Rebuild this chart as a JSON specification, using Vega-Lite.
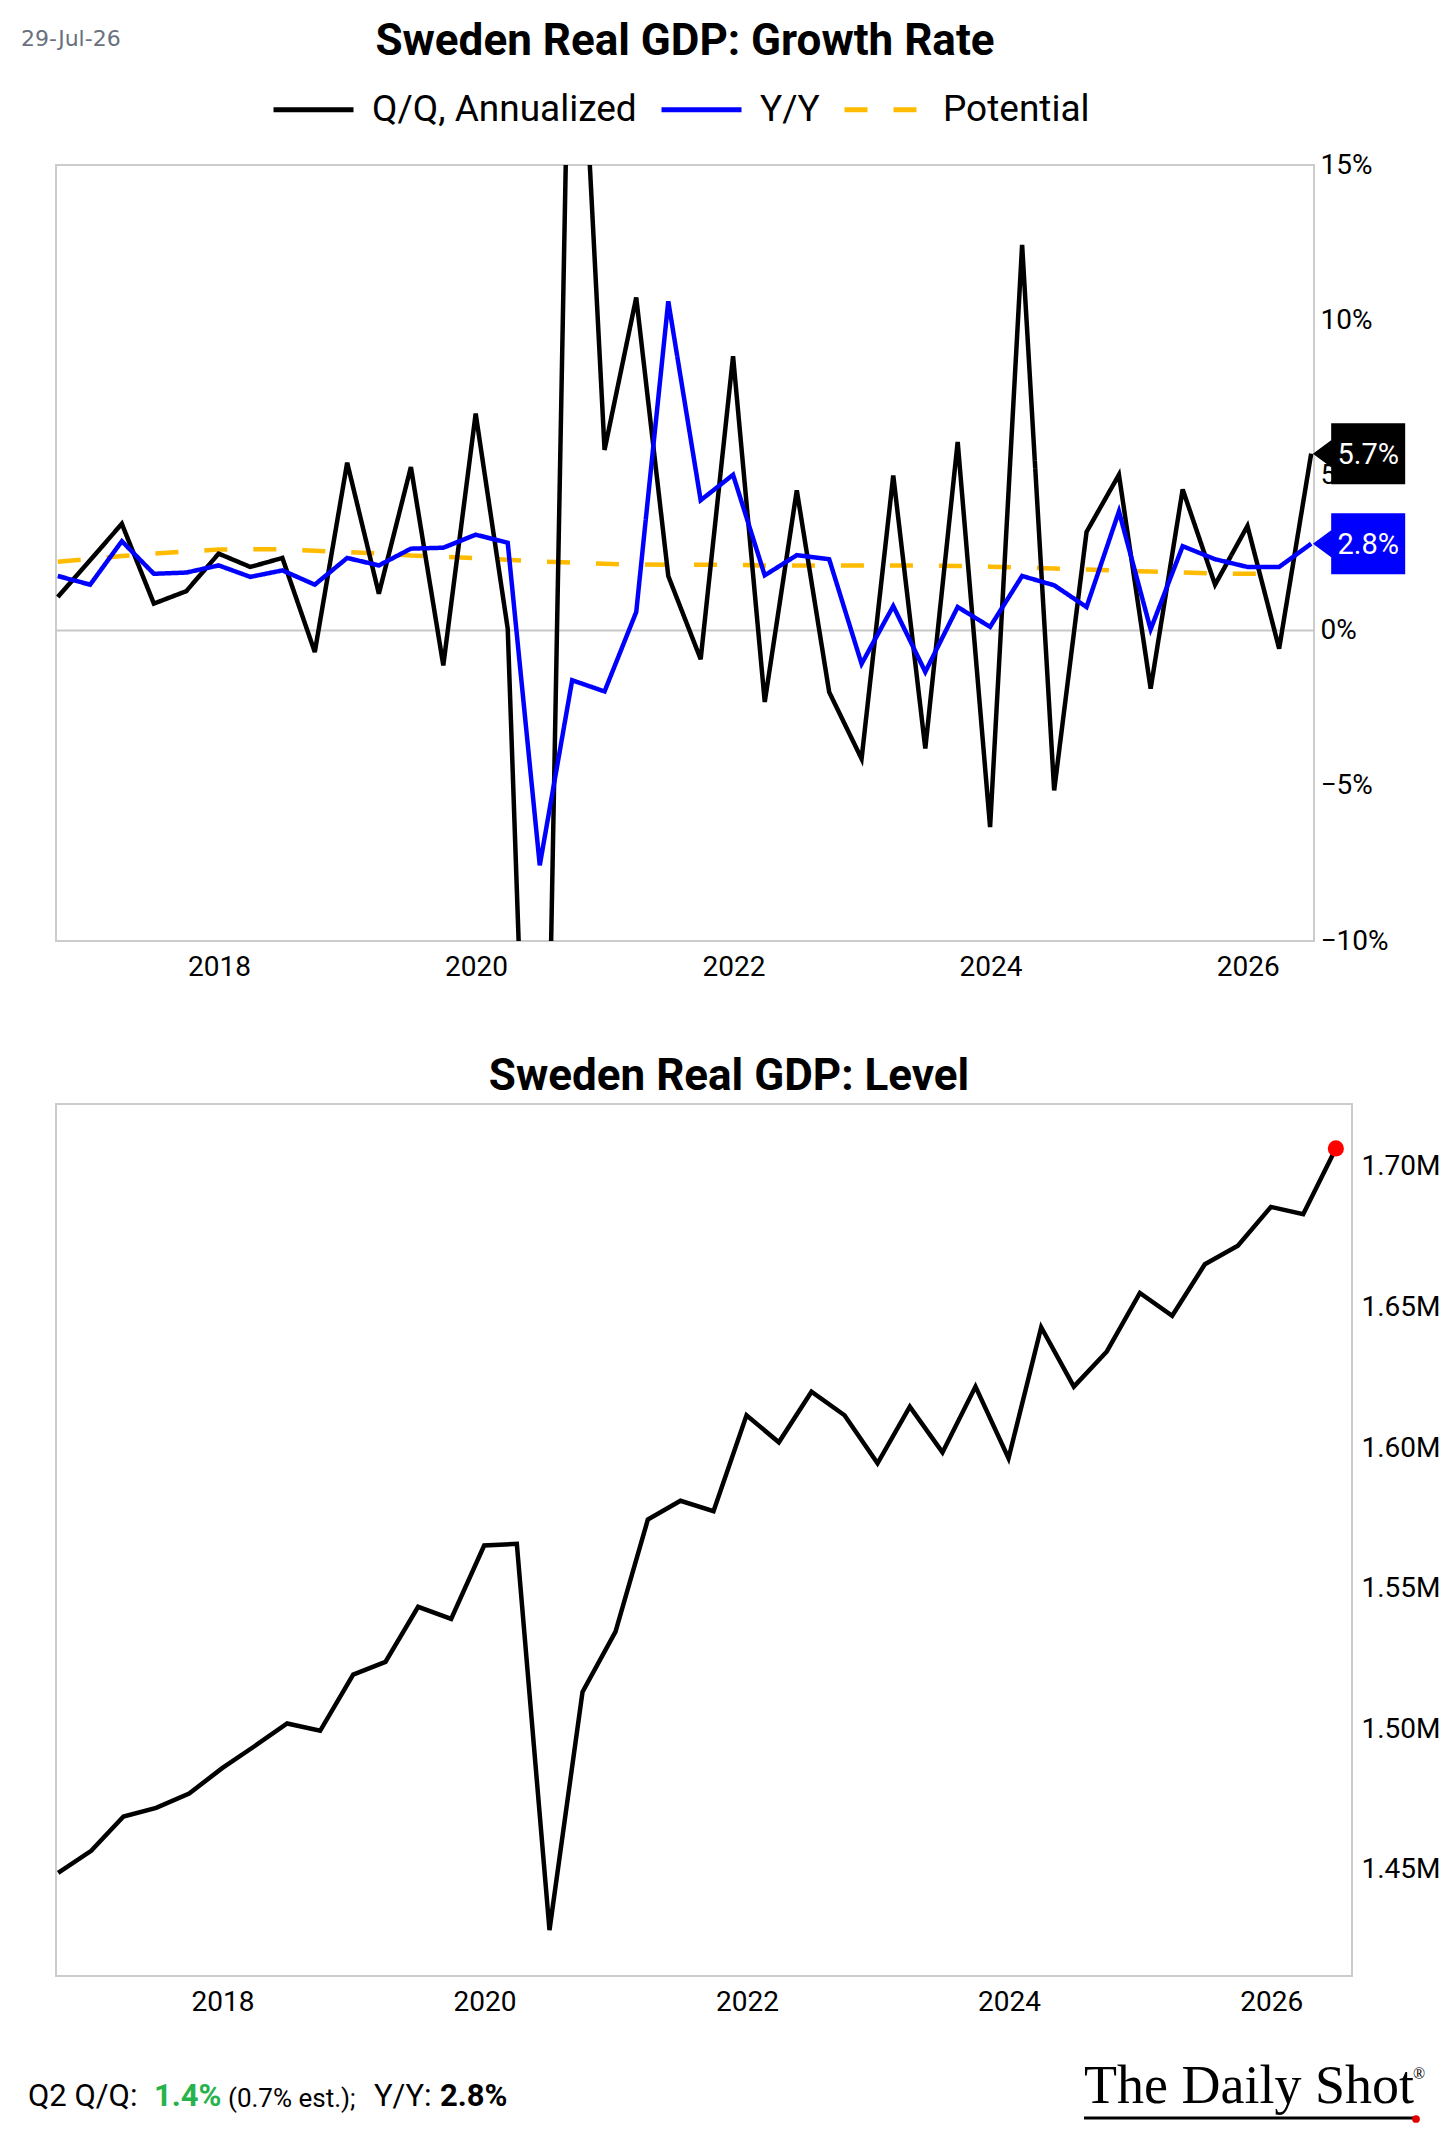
{
  "$schema": "https://vega.github.io/schema/vega-lite/v6.json",
  "background": "#ffffff",
  "padding": {"left": 20, "top": 19, "right": 6, "bottom": 20},
  "autosize": {"type": "pad"},
  "bounds": "flush",
  "spacing": 163,
  "config": {
    "font": "Roboto",
    "view": {"stroke": "#cccccc", "strokeWidth": 2},
    "axis": {"grid": false, "ticks": false, "domain": false, "labelFont": "Roboto", "labelFontSize": 28, "labelColor": "#000000"},
    "title": {"font": "Roboto", "fontWeight": "bold", "fontSize": 44, "color": "#000000", "anchor": "middle", "frame": "group"},
    "legend": {"orient": "none", "legendX": 215, "legendY": -98, "direction": "horizontal", "symbolType": "stroke", "symbolSize": 6400, "symbolStrokeWidth": 5, "labelFont": "Roboto", "labelFontSize": 37, "labelColor": "#000000", "labelOffset": 16, "labelLimit": 600, "columnPadding": 14, "padding": 0}
  },
  "datasets": {
    "gdp": [
      {"d": "2016-09-30", "Q/Q, Annualized": 0.0108, "Y/Y": 0.0176, "Potential": 0.0222, "lvl": 1449000},
      {"d": "2016-12-31", "Q/Q, Annualized": 0.0227, "Y/Y": 0.0148, "Potential": 0.0231, "lvl": 1456800},
      {"d": "2017-03-31", "Q/Q, Annualized": 0.0344, "Y/Y": 0.0288, "Potential": 0.0240, "lvl": 1469000},
      {"d": "2017-06-30", "Q/Q, Annualized": 0.0087, "Y/Y": 0.0183, "Potential": 0.0248, "lvl": 1472100},
      {"d": "2017-09-30", "Q/Q, Annualized": 0.0127, "Y/Y": 0.0187, "Potential": 0.0255, "lvl": 1477200},
      {"d": "2017-12-31", "Q/Q, Annualized": 0.0248, "Y/Y": 0.0210, "Potential": 0.0261, "lvl": 1486200},
      {"d": "2018-03-31", "Q/Q, Annualized": 0.0205, "Y/Y": 0.0173, "Potential": 0.0262, "lvl": 1494000},
      {"d": "2018-06-30", "Q/Q, Annualized": 0.0234, "Y/Y": 0.0194, "Potential": 0.0262, "lvl": 1502100},
      {"d": "2018-09-30", "Q/Q, Annualized": -0.0069, "Y/Y": 0.0148, "Potential": 0.0257, "lvl": 1499500},
      {"d": "2018-12-31", "Q/Q, Annualized": 0.0541, "Y/Y": 0.0234, "Potential": 0.0253, "lvl": 1519500},
      {"d": "2019-03-31", "Q/Q, Annualized": 0.0119, "Y/Y": 0.0210, "Potential": 0.0249, "lvl": 1524000},
      {"d": "2019-06-30", "Q/Q, Annualized": 0.0527, "Y/Y": 0.0264, "Potential": 0.0242, "lvl": 1543600},
      {"d": "2019-09-30", "Q/Q, Annualized": -0.0112, "Y/Y": 0.0267, "Potential": 0.0238, "lvl": 1539300},
      {"d": "2019-12-31", "Q/Q, Annualized": 0.0699, "Y/Y": 0.0309, "Potential": 0.0233, "lvl": 1565400},
      {"d": "2020-03-31", "Q/Q, Annualized": 0.0006, "Y/Y": 0.0283, "Potential": 0.0228, "lvl": 1566000},
      {"d": "2020-06-30", "Q/Q, Annualized": -0.2950, "Y/Y": -0.0756, "Potential": 0.0223, "lvl": 1428600},
      {"d": "2020-09-30", "Q/Q, Annualized": 0.2600, "Y/Y": -0.0160, "Potential": 0.0219, "lvl": 1513300},
      {"d": "2020-12-31", "Q/Q, Annualized": 0.0582, "Y/Y": -0.0196, "Potential": 0.0215, "lvl": 1534800},
      {"d": "2021-03-31", "Q/Q, Annualized": 0.1073, "Y/Y": 0.0060, "Potential": 0.0213, "lvl": 1574600},
      {"d": "2021-06-30", "Q/Q, Annualized": 0.0176, "Y/Y": 0.1061, "Potential": 0.0212, "lvl": 1581300},
      {"d": "2021-09-30", "Q/Q, Annualized": -0.0092, "Y/Y": 0.0420, "Potential": 0.0212, "lvl": 1577600},
      {"d": "2021-12-31", "Q/Q, Annualized": 0.0884, "Y/Y": 0.0502, "Potential": 0.0212, "lvl": 1611700},
      {"d": "2022-03-31", "Q/Q, Annualized": -0.0230, "Y/Y": 0.0178, "Potential": 0.0210, "lvl": 1602100},
      {"d": "2022-06-30", "Q/Q, Annualized": 0.0452, "Y/Y": 0.0243, "Potential": 0.0210, "lvl": 1620100},
      {"d": "2022-09-30", "Q/Q, Annualized": -0.0198, "Y/Y": 0.0230, "Potential": 0.0210, "lvl": 1611700},
      {"d": "2022-12-31", "Q/Q, Annualized": -0.0413, "Y/Y": -0.0107, "Potential": 0.0210, "lvl": 1594600},
      {"d": "2023-03-31", "Q/Q, Annualized": 0.0500, "Y/Y": 0.0079, "Potential": 0.0210, "lvl": 1614800},
      {"d": "2023-06-30", "Q/Q, Annualized": -0.0380, "Y/Y": -0.0133, "Potential": 0.0210, "lvl": 1598500},
      {"d": "2023-09-30", "Q/Q, Annualized": 0.0608, "Y/Y": 0.0076, "Potential": 0.0208, "lvl": 1621900},
      {"d": "2023-12-31", "Q/Q, Annualized": -0.0633, "Y/Y": 0.0012, "Potential": 0.0206, "lvl": 1596400},
      {"d": "2024-03-31", "Q/Q, Annualized": 0.1243, "Y/Y": 0.0176, "Potential": 0.0203, "lvl": 1643000},
      {"d": "2024-06-30", "Q/Q, Annualized": -0.0515, "Y/Y": 0.0146, "Potential": 0.0200, "lvl": 1621900},
      {"d": "2024-09-30", "Q/Q, Annualized": 0.0318, "Y/Y": 0.0076, "Potential": 0.0197, "lvl": 1634400},
      {"d": "2024-12-31", "Q/Q, Annualized": 0.0502, "Y/Y": 0.0384, "Potential": 0.0193, "lvl": 1655200},
      {"d": "2025-03-31", "Q/Q, Annualized": -0.0187, "Y/Y": 0.0004, "Potential": 0.0190, "lvl": 1647100},
      {"d": "2025-06-30", "Q/Q, Annualized": 0.0455, "Y/Y": 0.0272, "Potential": 0.0187, "lvl": 1665400},
      {"d": "2025-09-30", "Q/Q, Annualized": 0.0148, "Y/Y": 0.0230, "Potential": 0.0184, "lvl": 1672000},
      {"d": "2025-12-31", "Q/Q, Annualized": 0.0337, "Y/Y": 0.0205, "Potential": 0.0183, "lvl": 1685800},
      {"d": "2026-03-31", "Q/Q, Annualized": -0.0058, "Y/Y": 0.0205, "Potential": 0.0183, "lvl": 1683200},
      {"d": "2026-06-30", "Q/Q, Annualized": 0.0570, "Y/Y": 0.0280, "Potential": null, "lvl": 1706600}
    ]
  },
  "vconcat": [
    {
      "width": 1258,
      "height": 776,
      "title": {"text": "Sweden Real GDP: Growth Rate", "offset": -36},
      "data": {"name": "gdp"},
      "layer": [
        {
          "data": {"values": [{}]},
          "mark": {"type": "rule", "color": "#c8c8c8", "strokeWidth": 2},
          "encoding": {
            "y": {"datum": 0, "type": "quantitative", "title": null, "scale": {"domain": [-0.1, 0.15], "nice": false, "zero": false}}
          }
        },
        {
          "transform": [
            {"fold": ["Potential", "Q/Q, Annualized", "Y/Y"], "as": ["series", "v"]},
            {"filter": "isValid(datum.v)"}
          ],
          "mark": {"type": "line", "strokeWidth": 4.5, "clip": true, "strokeJoin": "miter"},
          "encoding": {
            "x": {
              "field": "d", "type": "temporal", "title": null,
              "scale": {"domain": [{"year": 2016, "month": 9, "date": 25}, {"year": 2026, "month": 7, "date": 8}], "nice": false},
              "axis": {
                "values": [{"year": 2018, "month": 1, "date": 1}, {"year": 2020, "month": 1, "date": 1}, {"year": 2022, "month": 1, "date": 1}, {"year": 2024, "month": 1, "date": 1}, {"year": 2026, "month": 1, "date": 1}],
                "format": "%Y", "labelPadding": 12, "labelFlush": false
              }
            },
            "y": {
              "field": "v", "type": "quantitative", "title": null,
              "scale": {"domain": [-0.1, 0.15], "nice": false, "zero": false},
              "axis": {"orient": "right", "values": [-0.1, -0.05, 0, 0.05, 0.1, 0.15], "format": ".0%", "labelPadding": 6}
            },
            "color": {
              "field": "series", "type": "nominal", "legend": {"title": null},
              "scale": {"domain": ["Q/Q, Annualized", "Y/Y", "Potential"], "range": ["#000000", "#0000ff", "#ffbb00"]}
            },
            "strokeDash": {
              "field": "series", "type": "nominal", "legend": {"title": null},
              "scale": {"domain": ["Q/Q, Annualized", "Y/Y", "Potential"], "range": [[1, 0], [1, 0], [23, 26]]}
            }
          }
        },
        {
          "transform": [
            {"fold": ["Q/Q, Annualized", "Y/Y"], "as": ["series", "v"]},
            {"joinaggregate": [{"op": "max", "field": "d", "as": "last"}]},
            {"filter": "time(datum.d) === time(datum.last)"}
          ],
          "mark": {"type": "point", "filled": true, "opacity": 1, "strokeWidth": 0, "size": 400, "shape": "M0.17,0L2,-1.35L2,-3.05L9.4,-3.05L9.4,3.05L2,3.05L2,1.35Z"},
          "encoding": {
            "x": {"field": "d", "type": "temporal", "title": null, "scale": {"domain": [{"year": 2016, "month": 9, "date": 25}, {"year": 2026, "month": 7, "date": 8}], "nice": false}},
            "y": {"field": "v", "type": "quantitative", "title": null, "scale": {"domain": [-0.1, 0.15], "nice": false, "zero": false}},
            "fill": {"condition": {"test": "datum.series === 'Y/Y'", "value": "#0000ff"}, "value": "#000000"}
          }
        },
        {
          "transform": [
            {"fold": ["Q/Q, Annualized", "Y/Y"], "as": ["series", "v"]},
            {"joinaggregate": [{"op": "max", "field": "d", "as": "last"}]},
            {"filter": "time(datum.d) === time(datum.last)"}
          ],
          "mark": {"type": "text", "color": "#ffffff", "fontSize": 29, "align": "center", "baseline": "middle", "dx": 57, "dy": 1},
          "encoding": {
            "x": {"field": "d", "type": "temporal", "title": null, "scale": {"domain": [{"year": 2016, "month": 9, "date": 25}, {"year": 2026, "month": 7, "date": 8}], "nice": false}},
            "y": {"field": "v", "type": "quantitative", "title": null, "scale": {"domain": [-0.1, 0.15], "nice": false, "zero": false}},
            "text": {"field": "v", "type": "quantitative", "format": ".1%"}
          }
        },
        {
          "data": {"values": [{}]},
          "mark": {"type": "text", "align": "left", "baseline": "middle", "font": "DejaVu Sans", "fontSize": 22, "color": "#69707e"},
          "encoding": {"x": {"value": -35}, "y": {"value": -126}, "text": {"value": "29-Jul-26"}}
        }
      ]
    },
    {
      "width": 1296,
      "height": 872,
      "title": {"text": "Sweden Real GDP: Level", "offset": 5, "dx": 25},
      "data": {"name": "gdp"},
      "layer": [
        {
          "mark": {"type": "line", "color": "#000000", "strokeWidth": 4.5, "strokeJoin": "miter"},
          "encoding": {
            "x": {
              "field": "d", "type": "temporal", "title": null,
              "scale": {"domain": [{"year": 2016, "month": 9, "date": 24}, {"year": 2026, "month": 8, "date": 14}], "nice": false},
              "axis": {
                "values": [{"year": 2018, "month": 1, "date": 1}, {"year": 2020, "month": 1, "date": 1}, {"year": 2022, "month": 1, "date": 1}, {"year": 2024, "month": 1, "date": 1}, {"year": 2026, "month": 1, "date": 1}],
                "format": "%Y", "labelPadding": 12, "labelFlush": false
              }
            },
            "y": {
              "field": "lvl", "type": "quantitative", "title": null,
              "scale": {"domain": [1412300, 1722400], "nice": false, "zero": false},
              "axis": {"orient": "right", "values": [1450000, 1500000, 1550000, 1600000, 1650000, 1700000], "format": ".3s", "labelPadding": 9}
            }
          }
        },
        {
          "transform": [
            {"joinaggregate": [{"op": "max", "field": "d", "as": "last"}]},
            {"filter": "time(datum.d) === time(datum.last)"}
          ],
          "mark": {"type": "circle", "color": "#ff0000", "size": 260, "opacity": 1},
          "encoding": {
            "x": {"field": "d", "type": "temporal", "title": null, "scale": {"domain": [{"year": 2016, "month": 9, "date": 24}, {"year": 2026, "month": 8, "date": 14}], "nice": false}},
            "y": {"field": "lvl", "type": "quantitative", "title": null, "scale": {"domain": [1412300, 1722400], "nice": false, "zero": false}}
          }
        },
        {
          "data": {"values": [{}]},
          "mark": {"type": "text", "align": "left", "baseline": "middle", "fontSize": 31, "color": "#000000"},
          "encoding": {"x": {"value": -28}, "y": {"value": 993}, "text": {"value": "Q2 Q/Q:"}}
        },
        {
          "data": {"values": [{}]},
          "mark": {"type": "text", "align": "left", "baseline": "middle", "fontSize": 31, "fontWeight": "bold", "color": "#27b34b"},
          "encoding": {"x": {"value": 98}, "y": {"value": 993}, "text": {"value": "1.4%"}}
        },
        {
          "data": {"values": [{}]},
          "mark": {"type": "text", "align": "left", "baseline": "middle", "fontSize": 26, "color": "#000000"},
          "encoding": {"x": {"value": 172}, "y": {"value": 995}, "text": {"value": "(0.7% est.);"}}
        },
        {
          "data": {"values": [{}]},
          "mark": {"type": "text", "align": "left", "baseline": "middle", "fontSize": 31, "color": "#000000"},
          "encoding": {"x": {"value": 318}, "y": {"value": 993}, "text": {"value": "Y/Y:"}}
        },
        {
          "data": {"values": [{}]},
          "mark": {"type": "text", "align": "left", "baseline": "middle", "fontSize": 31, "fontWeight": "bold", "color": "#000000"},
          "encoding": {"x": {"value": 384}, "y": {"value": 993}, "text": {"value": "2.8%"}}
        },
        {
          "data": {"values": [{}]},
          "mark": {"type": "text", "align": "left", "baseline": "alphabetic", "font": "Liberation Serif", "fontSize": 54, "color": "#000000"},
          "encoding": {"x": {"value": 1028}, "y": {"value": 999}, "text": {"value": "The Daily Shot"}}
        },
        {
          "data": {"values": [{}]},
          "mark": {"type": "text", "align": "left", "baseline": "alphabetic", "font": "Liberation Serif", "fontSize": 16, "color": "#000000"},
          "encoding": {"x": {"value": 1357}, "y": {"value": 975}, "text": {"value": "®"}}
        },
        {
          "data": {"values": [{}]},
          "mark": {"type": "rule", "color": "#000000", "strokeWidth": 3},
          "encoding": {"x": {"value": 1028}, "x2": {"value": 1358}, "y": {"value": 1014}}
        },
        {
          "data": {"values": [{}]},
          "mark": {"type": "circle", "color": "#e00000", "size": 60, "opacity": 1},
          "encoding": {"x": {"value": 1360}, "y": {"value": 1015}}
        }
      ]
    }
  ]
}
